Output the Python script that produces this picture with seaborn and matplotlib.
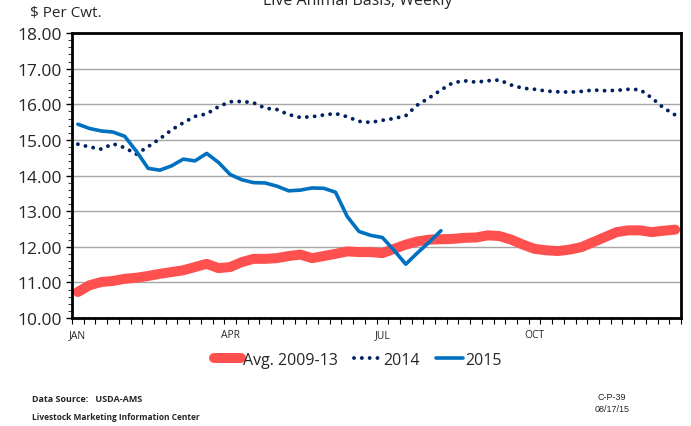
import numpy as np
import pandas as pd
import matplotlib
matplotlib.use("Agg")
import matplotlib.pyplot as plt
import seaborn as sns

# ---------------- data ----------------
month_labels = ["JAN", "APR", "JUL", "OCT"]
month_weeks = [1, 14, 27, 40]

avg_2009_13 = [10.73, 10.92, 11.01, 11.04, 11.10, 11.13, 11.18, 11.24, 11.29, 11.34,
               11.43, 11.52, 11.40, 11.43, 11.57, 11.66, 11.66, 11.68, 11.74, 11.78,
               11.68, 11.74, 11.80, 11.87, 11.85, 11.85, 11.82, 11.94, 12.06, 12.15,
               12.20, 12.21, 12.22, 12.25, 12.26, 12.32, 12.30, 12.20, 12.06, 11.94,
               11.90, 11.88, 11.92, 11.99, 12.13, 12.27, 12.41, 12.46, 12.46, 12.41,
               12.45, 12.48]
y2014 = [14.88, 14.80, 14.74, 14.89, 14.78, 14.60, 14.81, 15.03, 15.28, 15.48,
         15.66, 15.73, 15.93, 16.07, 16.08, 16.04, 15.89, 15.85, 15.71, 15.63,
         15.65, 15.70, 15.74, 15.65, 15.52, 15.49, 15.55, 15.60, 15.68, 15.98,
         16.18, 16.40, 16.60, 16.66, 16.62, 16.66, 16.68, 16.54, 16.45, 16.42,
         16.37, 16.35, 16.34, 16.36, 16.40, 16.38, 16.39, 16.42, 16.41, 16.18,
         15.90, 15.70]
y2015 = [15.44, 15.32, 15.25, 15.22, 15.10, 14.68, 14.20, 14.15, 14.27, 14.46,
         14.41, 14.62, 14.37, 14.03, 13.88, 13.80, 13.79, 13.70, 13.57, 13.59,
         13.65, 13.64, 13.53, 12.85, 12.43, 12.32, 12.26, 11.90, 11.51, 11.83,
         12.13, 12.45]

series_names = ["Avg. 2009-13", "2014", "2015"]
series_values = [avg_2009_13, y2014, y2015]

# ---------------- build long table ----------------
rows = []
for name, vals in zip(series_names, series_values):
    for i, v in enumerate(vals):
        rows.append({"week": i + 1, "pos": i + 0.5, "value": v, "series": name})
df = pd.DataFrame(rows)

sns.set_style("white")
plt.rcParams["font.family"] = ["Open Sans", "DejaVu Sans"]

fig = plt.figure(figsize=(6.91, 4.27), dpi=100)
ax = fig.add_axes([72 / 691, 1 - 319 / 427, (681 - 72) / 691, (319 - 34) / 427])

styles = {
    "Avg. 2009-13": dict(color="#FF5050", linewidth=7.2, solid_capstyle="round"),
    "2014": dict(color="#002060", linewidth=2.8, linestyle=(0, (0.01, 2.0)),
                 dash_capstyle="round"),
    "2015": dict(color="#0070C0", linewidth=2.6, solid_capstyle="round"),
}
for name in series_names:
    sub = df[df["series"] == name]
    sns.lineplot(data=sub, x="pos", y="value", ax=ax, label=name,
                 legend=False, **styles[name])

ax.set_xlim(0, 52)
ax.set_ylim(10, 18)
ax.set_xlabel("")
ax.set_ylabel("")

# y axis
ax.set_yticks(np.arange(10, 18.01, 1))
ax.set_yticklabels([f"{v:.2f}" for v in np.arange(10, 18.01, 1)], fontsize=12.5)
ax.set_yticks(np.arange(10, 18.01, 0.2), minor=True)
ax.yaxis.grid(True, which="major", color="#A6A6A6", linewidth=1.0)
ax.set_axisbelow(True)

# x axis: week boundary ticks, month labels at week centres
ax.set_xticks(np.arange(0, 53, 1))
ax.set_xticklabels([])
ax.set_xticks([w - 0.5 for w in month_weeks], minor=True)
ax.set_xticklabels(month_labels, minor=True, fontsize=7.5)

ax.tick_params(axis="y", which="major", direction="out", length=4, width=1,
               color="black", pad=3, left=True)
ax.tick_params(axis="y", which="minor", direction="out", length=3, width=0.8,
               color="#444444", left=True)
ax.tick_params(axis="x", which="major", direction="out", length=4, width=0.8,
               color="black", bottom=True)
ax.tick_params(axis="x", which="minor", length=0, pad=8, bottom=True)

for sp in ax.spines.values():
    sp.set_visible(True)
    sp.set_color("black")
    sp.set_linewidth(2)

# texts (title is partly cut by the top edge, as in the reference)
fig.text(358 / 691, 1 - 5 / 427, "Live Animal Basis, Weekly", ha="center",
         va="baseline", fontsize=11.5)
fig.text(30 / 691, 1 - 14 / 427, "$ Per Cwt.", ha="left", va="center", fontsize=11)

handles, labels = ax.get_legend_handles_labels()
fig.legend(handles, labels, loc="center", bbox_to_anchor=(358 / 691, 1 - 361 / 427),
           ncol=3, frameon=False, fontsize=11.5, handlelength=1.7,
           handletextpad=0.15, columnspacing=1.0)

fig.text(32 / 691, 1 - 400 / 427, "Data Source:   USDA-AMS", ha="left",
         va="center", fontsize=6.5, fontweight="bold")
fig.text(32 / 691, 1 - 418 / 427, "Livestock Marketing Information Center",
         ha="left", va="center", fontsize=6, fontweight="bold")
fig.text(612 / 691, 1 - 398 / 427, "C-P-39", ha="center", va="center",
         fontsize=6.5, family=["Liberation Sans Narrow", "Liberation Sans", "DejaVu Sans"])
fig.text(612 / 691, 1 - 410 / 427, "08/17/15", ha="center", va="center",
         fontsize=6.5, family=["Liberation Sans Narrow", "Liberation Sans", "DejaVu Sans"])

fig.savefig("out.png", dpi=100)
